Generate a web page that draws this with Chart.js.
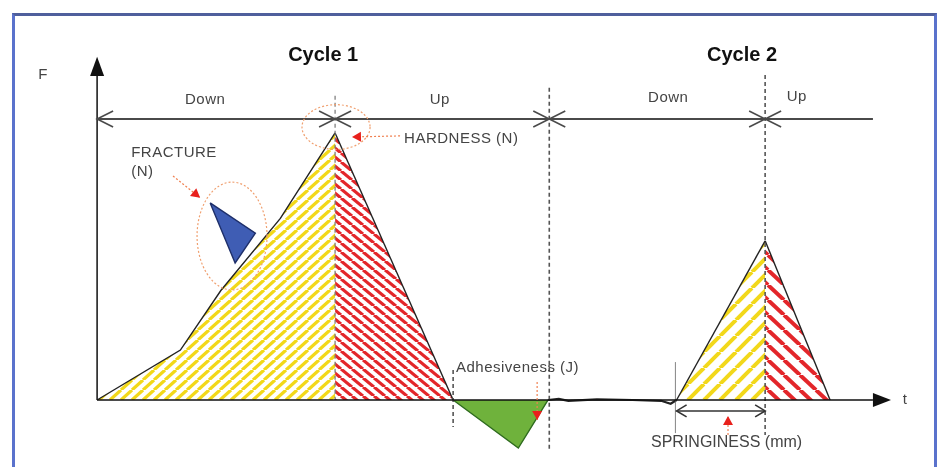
<!DOCTYPE html>
<html lang="en">
<head>
    <meta charset="UTF-8">
    <title>Texture profile analysis</title>
    <script src="https://cdn.jsdelivr.net/npm/chart.js"></script>
    <style>
        body { margin: 0; background: white; }
        .wrap { position: relative; width: 946px; height: 467px; }
        .frame {
            position: absolute; left: 12px; top: 13px; width: 919px; height: 470px;
            border: 3px solid #5a72cc; border-top-color: #4f5f9c;
            pointer-events: none;
        }
    </style>
</head>
<body>
    <div class="wrap">
        <canvas id="tpa" width="946" height="467"></canvas>
        <div class="frame"></div>
    </div>

    <script>
        // force curve, t in s and F in N (peak 1 = 100)
        const cycle1Down = [[0, 0], [3.5, 18.7], [5.2, 41], [7.7, 68], [10, 100]];
        const cycle1Up = [[10, 100], [14.96, 0]];
        const adhesion = [[14.96, 0], [17.7, -18], [18.95, 0]];
        const restLine = [[18.95, 0], [19.4, 0.4], [19.8, -0.3], [21, 0.2], [22.5, 0], [23.7, -0.3], [24.1, -1.4], [24.35, 0]];
        const cycle2Down = [[24.35, 0], [28.07, 59.6]];
        const cycle2Up = [[28.07, 59.6], [30.8, 0]];
        const fracturePiece = [[4.75, 73.8], [6.65, 62.5], [5.8, 51.3], [4.75, 73.8]];

        // axes
        const tMin = -4.08, tMax = 35.67, fMin = -25.1, fMax = 149.8;
        const tAxisEnd = 32.6, tArrowTip = 33.36;
        const fAxisEnd = 121.3, fArrowTip = 128.5;

        // probe phases
        const phaseF = 105.2;
        const phaseBounds = [10, 19, 28.07];
        const phaseLabels = ['Down', 'Up', 'Down', 'Up'];
        const phaseLabelT = [4.54, 14.4, 24.0, 29.4];
        const phaseLabelF = [112.4, 112.4, 113.1, 113.5];
        const cycleTitles = ['Cycle 1', 'Cycle 2'];
        const cycleTitleT = [9.5, 27.1];
        const cycleTitleF = 129.2;

        // dashed guides: t, top F, bottom F
        const guideT = [10, 19, 28.07, 14.96];
        const guideTop = [113.9, 116.9, 121.7, 11.2];
        const guideBottom = [0, -18.7, -13.1, -10.1];
        const springStartT = 24.3, springGuide = [14.2, -12.4];
        const springArrowF = -4.1;

        // highlights: [t, F, half width t, half height F]
        const hardnessRing = [10.04, 102.2, 1.43, 8.4];
        const fractureRing = [5.67, 61.4, 1.47, 20.2];
        // pointers: [t from, F from, t to, F to]
        const pointers = [
            [12.73, 98.9, 10.71, 98.5],
            [3.19, 83.9, 4.33, 75.7],
            [18.49, 6.7, 18.49, -7.5],
            [26.51, -13.1, 26.51, -6.0]
        ];
        const notes = ['HARDNESS (N)', 'FRACTURE', '(N)', 'Adhesiveness (J)', 'SPRINGINESS (mm)'];
        const noteT = [12.9, 1.43, 1.43, 15.08, 26.45];
        const noteF = [97.8, 92.5, 85.4, 12.0, -16.0];

        const pts = arr => arr.map(([x, y]) => ({ x: x, y: y }));

        function stripes(color, rising, w, h, lw) {
            const c = document.createElement('canvas');
            c.width = w; c.height = h;
            const g = c.getContext('2d');
            g.fillStyle = 'white';
            g.fillRect(0, 0, w, h);
            g.strokeStyle = color;
            g.lineWidth = lw;
            for (let k = -1; k <= 1; k++) {
                g.beginPath();
                if (rising) { g.moveTo(k * w, h); g.lineTo(k * w + w, 0); }
                else { g.moveTo(k * w, 0); g.lineTo(k * w + w, h); }
                g.stroke();
            }
            return g.createPattern(c, 'repeat');
        }
        const ctx = document.getElementById('tpa').getContext('2d');
        const yellowFine = stripes('#f2d81a', true, 11, 10, 3.2);
        const redFine = stripes('#e3262a', false, 11, 9, 3.2);
        const yellowWide = stripes('#f2d81a', true, 16, 16, 4);
        const redWide = stripes('#e3262a', false, 16, 15, 4);

        function arrowHead(g, x, y, ang, len, half, filled) {
            g.beginPath();
            g.moveTo(x - len * Math.cos(ang) + half * Math.sin(ang), y - len * Math.sin(ang) - half * Math.cos(ang));
            g.lineTo(x, y);
            g.lineTo(x - len * Math.cos(ang) - half * Math.sin(ang), y - len * Math.sin(ang) + half * Math.cos(ang));
            if (filled) { g.closePath(); g.fill(); } else { g.stroke(); }
        }

        const decorations = {
            id: 'decorations',
            afterDatasetsDraw(chart) {
                const g = chart.ctx;
                const X = v => chart.scales.x.getPixelForValue(v);
                const Y = v => chart.scales.y.getPixelForValue(v);
                g.save();

                // dashed guides
                g.setLineDash([4, 3]);
                guideT.forEach((t, i) => {
                    g.strokeStyle = i === 0 ? '#777' : '#555';
                    g.lineWidth = i === 0 ? 1.2 : 1.6;
                    g.beginPath();
                    g.moveTo(X(t), Y(guideTop[i]));
                    g.lineTo(X(t), Y(guideBottom[i]));
                    g.stroke();
                });
                g.setLineDash([]);
                g.lineWidth = 0.8;
                g.strokeStyle = '#666';
                g.beginPath();
                g.moveTo(X(springStartT), Y(springGuide[0]));
                g.lineTo(X(springStartT), Y(springGuide[1]));
                g.stroke();

                // axes
                g.strokeStyle = '#111';
                g.fillStyle = '#111';
                g.lineWidth = 1.5;
                g.beginPath();
                g.moveTo(X(0), Y(0)); g.lineTo(X(tAxisEnd), Y(0));
                g.moveTo(X(0), Y(0)); g.lineTo(X(0), Y(fAxisEnd));
                g.stroke();
                arrowHead(g, X(tArrowTip), Y(0), 0, X(tArrowTip) - X(tAxisEnd), 7, true);
                arrowHead(g, X(0), Y(fArrowTip), -Math.PI / 2, Y(fAxisEnd) - Y(fArrowTip), 7, true);

                // phase line with chevrons
                g.strokeStyle = '#4a4a4a';
                g.lineWidth = 2;
                g.beginPath();
                g.moveTo(X(0), Y(phaseF)); g.lineTo(X(tAxisEnd), Y(phaseF));
                g.stroke();
                g.lineWidth = 1.6;
                arrowHead(g, X(0), Y(phaseF), Math.PI, 16, 8, false);
                phaseBounds.forEach(t => {
                    arrowHead(g, X(t), Y(phaseF), 0, 16, 8, false);
                    arrowHead(g, X(t), Y(phaseF), Math.PI, 16, 8, false);
                });

                // springiness span
                g.lineWidth = 1.6;
                g.strokeStyle = '#333';
                g.beginPath();
                g.moveTo(X(cycle2Down[0][0]), Y(springArrowF)); g.lineTo(X(cycle2Down[1][0]), Y(springArrowF));
                g.stroke();
                arrowHead(g, X(cycle2Down[0][0]), Y(springArrowF), Math.PI, 10, 6, false);
                arrowHead(g, X(cycle2Down[1][0]), Y(springArrowF), 0, 10, 6, false);

                // highlight rings
                g.strokeStyle = '#f0a070';
                g.lineWidth = 1.2;
                g.setLineDash([2, 2]);
                [hardnessRing, fractureRing].forEach(r => {
                    g.beginPath();
                    g.ellipse(X(r[0]), Y(r[1]), X(r[0] + r[2]) - X(r[0]), Y(r[1] - r[3]) - Y(r[1]), 0, 0, Math.PI * 2);
                    g.stroke();
                });

                // pointers
                pointers.forEach(p => {
                    const x1 = X(p[0]), y1 = Y(p[1]), x2 = X(p[2]), y2 = Y(p[3]);
                    const ang = Math.atan2(y2 - y1, x2 - x1);
                    g.setLineDash([2, 2]);
                    g.strokeStyle = '#f08050';
                    g.beginPath(); g.moveTo(x1, y1); g.lineTo(x2, y2); g.stroke();
                    g.setLineDash([]);
                    g.fillStyle = '#e8201c';
                    arrowHead(g, x2, y2, ang, 9, 5, true);
                });

                // texts
                g.fillStyle = '#111';
                g.textAlign = 'center';
                g.textBaseline = 'middle';
                g.font = 'bold 20px "Liberation Sans", Arial, sans-serif';
                cycleTitles.forEach((s, i) => g.fillText(s, X(cycleTitleT[i]), Y(cycleTitleF)));

                g.fillStyle = '#444';
                g.font = '15px "Liberation Sans", Arial, sans-serif';
                g.letterSpacing = '0.5px';
                phaseLabels.forEach((s, i) => g.fillText(s, X(phaseLabelT[i]), Y(phaseLabelF[i])));
                g.fillText('F', X(-2.27), Y(121.7));
                g.fillText('t', X(33.95), Y(0));

                notes.forEach((s, i) => {
                    g.textAlign = i === 4 ? 'center' : 'left';
                    g.letterSpacing = i === 4 ? '0px' : '0.5px';
                    g.font = (i === 4 ? '16px' : '15px') + ' "Liberation Sans", Arial, sans-serif';
                    g.fillText(s, X(noteT[i]), Y(noteF[i]));
                });
                g.restore();
            }
        };

        const line = { borderColor: '#222', borderWidth: 1.4, pointRadius: 0, tension: 0 };

        new Chart(ctx, {
            type: 'line',
            data: {
                datasets: [
                    { ...line, data: pts(cycle1Down), fill: 'origin', backgroundColor: yellowFine },
                    { ...line, data: pts(cycle1Up), fill: 'origin', backgroundColor: redFine },
                    { ...line, data: pts(adhesion), fill: 'origin', backgroundColor: '#6fb23c', borderColor: '#2e6b1e' },
                    { ...line, data: pts(restLine), fill: false, borderWidth: 2.2 },
                    { ...line, data: pts(cycle2Down), fill: 'origin', backgroundColor: yellowWide },
                    { ...line, data: pts(cycle2Up), fill: 'origin', backgroundColor: redWide },
                    { ...line, data: pts(fracturePiece), fill: 'shape', backgroundColor: '#3f5db4', borderColor: '#1e2f6a' }
                ]
            },
            options: {
                responsive: false,
                animation: false,
                layout: { padding: 0 },
                plugins: { legend: { display: false }, tooltip: { enabled: false } },
                scales: {
                    x: { type: 'linear', display: false, min: tMin, max: tMax },
                    y: { type: 'linear', display: false, min: fMin, max: fMax }
                }
            },
            plugins: [decorations]
        });
    </script>
</body>
</html>
